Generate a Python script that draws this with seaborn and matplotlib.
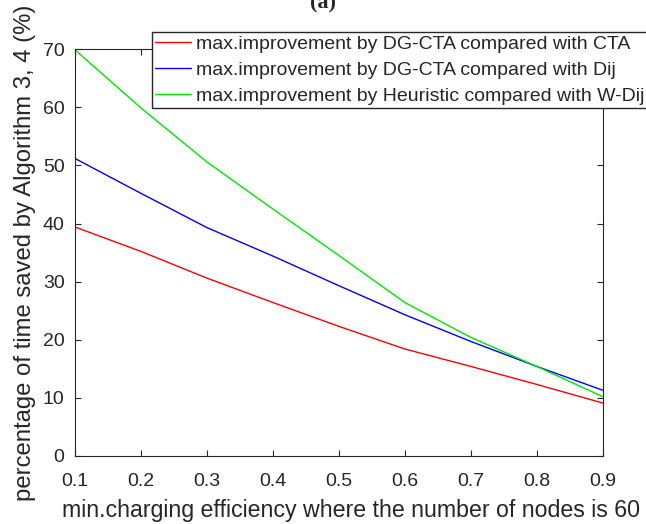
import pandas as pd
import seaborn as sns
import matplotlib.pyplot as plt

efficiency = [0.1, 0.2, 0.3, 0.4, 0.5, 0.6, 0.7, 0.8, 0.9]
dgcta_vs_cta = [39.4, 35.2, 30.6, 26.4, 22.3, 18.4, 15.4, 12.3, 9.1]
dgcta_vs_dij = [51.2, 45.2, 39.3, 34.4, 29.3, 24.3, 19.7, 15.4, 11.3]
heur_vs_wdij = [69.9, 59.9, 50.6, 42.5, 34.5, 26.4, 20.4, 15.4, 10.2]

labels = [
    "max.improvement by DG-CTA compared with CTA",
    "max.improvement by DG-CTA compared with Dij",
    "max.improvement by Heuristic compared with W-Dij",
]
colors = ["#ff0000", "#0000ff", "#00e600"]

df = pd.concat([
    pd.DataFrame({"x": efficiency, "y": vals, "serie": lab})
    for vals, lab in zip([dgcta_vs_cta, dgcta_vs_dij, heur_vs_wdij], labels)
])

sns.set_style("ticks")
plt.rcParams["font.family"] = ["Liberation Sans", "DejaVu Sans"]
plt.rcParams["xtick.major.pad"] = 12.5
plt.rcParams["ytick.major.pad"] = 7.5

fig = plt.figure(figsize=(6.46, 5.24), dpi=100)
ax = fig.add_axes([0.116, 0.130, 0.817, 0.776])

sns.lineplot(data=df, x="x", y="y", hue="serie", palette=colors,
             linewidth=1, ax=ax, legend=False)

ax.set_xlim(0.1, 0.9)
ax.set_ylim(0, 70)
ax.set_xticks(efficiency)
ax.set_xticklabels([f"{v:.1f}" for v in efficiency])
ax.set_yticks(range(0, 71, 10))
ax.tick_params(direction="in", top=True, right=True, labelsize=14,
               length=4, width=0.8, colors="#262626")
for sp in ax.spines.values():
    sp.set_visible(True)
    sp.set_color("#262626")
    sp.set_linewidth(0.8)

ax.set_xlabel("min.charging efficiency where the number of nodes is 60",
              fontsize=16.7, color="#262626")
ax.xaxis.set_label_coords(0.523, -0.134, transform=ax.transAxes)
ax.xaxis.label.set_va("center")
ax.set_ylabel("percentage of time saved by Algorithm 3, 4 (%)",
              fontsize=17.2, color="#262626", labelpad=5)

handles = [plt.Line2D([], [], color=c, lw=1) for c in colors]
fig.legend(handles, labels, loc="upper left",
           bbox_to_anchor=(152 / 646, 1 - 32 / 524), fontsize=14,
           frameon=True, fancybox=False, edgecolor="#262626",
           framealpha=1, handlelength=1.85, handletextpad=0.25,
           labelspacing=0.45, borderpad=0.15, borderaxespad=0)

fig.text(0.5, 1 - 8 / 524, "(a)", ha="center", va="baseline", fontsize=16,
         fontweight="bold", family="Liberation Serif", color="#262626")

fig.savefig("out.png", dpi=100)
